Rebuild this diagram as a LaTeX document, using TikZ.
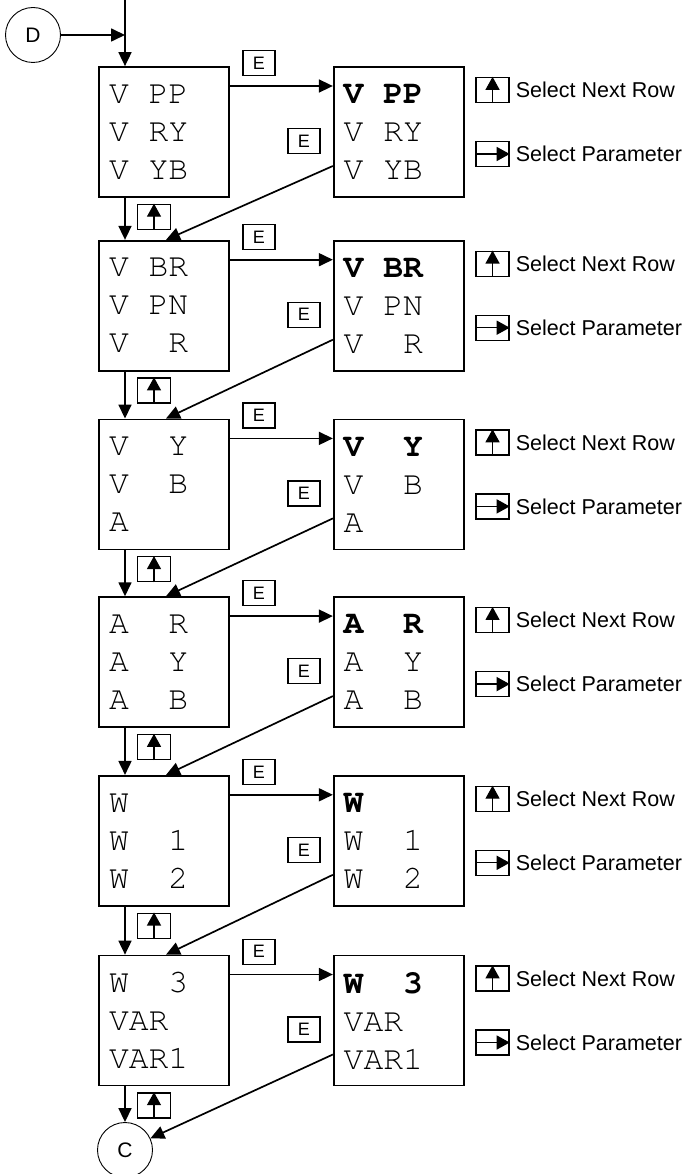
\documentclass[tikz,border=0pt]{standalone}
\usepackage{fontspec}
\setmainfont{Liberation Sans}
\newfontfamily\cursorfont{TeX Gyre Cursor}
\newcommand\cgap{\hphantom{0}}
\usetikzlibrary{arrows.meta, positioning}

\begin{document}
\begin{tikzpicture}[
    x=1pt, y=-1pt,
    menu/.style={draw, line width=1.7pt, minimum width=130pt, minimum height=130pt, text width=110pt, inner xsep=10pt, inner ysep=0pt, align=left, font=\cursorfont\fontsize{33}{38}\selectfont},
    keybox/.style={draw, line width=1.3pt, minimum width=32pt, minimum height=25pt, inner sep=0pt, font=\fontsize{18}{18}\selectfont},
    iconbox/.style={draw, line width=1.3pt, minimum width=33pt, minimum height=25pt, inner sep=0pt},
    term/.style={draw, circle, line width=0.9pt, minimum size=55pt, inner sep=0pt, font=\fontsize{21}{21}\selectfont},
    arrow/.style={-{Triangle[length=14pt, width=13pt]}, line width=1.7pt},
    iconarrow/.style={-{Triangle[length=13pt, width=14pt]}, line width=1.3pt},
    hint/.style={font=\fontsize{21.5}{21.5}\selectfont, inner sep=0pt},
]
    \useasboundingbox (0,0) rectangle (684,1174);

    % Menu screens
    \node[menu] (m1) at (164,132) {V\cgap PP\\V\cgap RY\\V\cgap YB};
    \node[menu, below=42pt of m1] (m2) {V\cgap BR\\V\cgap PN\\V\cgap\cgap R};
    \node[menu, below=47pt of m2] (m3) {V\cgap\cgap Y\\V\cgap\cgap B\\A};
    \node[menu, below=46pt of m3] (m4) {A\cgap\cgap R\\A\cgap\cgap Y\\A\cgap\cgap B};
    \node[menu, below=47pt of m4] (m5) {W\\W\cgap\cgap 1\\W\cgap\cgap 2};
    \node[menu, below=48pt of m5] (m6) {W\cgap\cgap 3\\VAR\\VAR1};

    % Parameter screens (selected row in bold)
    \node[menu, right=103pt of m1] (p1) {\textbf{V\cgap PP}\\V\cgap RY\\V\cgap YB};
    \node[menu, right=103pt of m2] (p2) {\textbf{V\cgap BR}\\V\cgap PN\\V\cgap\cgap R};
    \node[menu, right=103pt of m3] (p3) {\textbf{V\cgap\cgap Y}\\V\cgap\cgap B\\A};
    \node[menu, right=103pt of m4] (p4) {\textbf{A\cgap\cgap R}\\A\cgap\cgap Y\\A\cgap\cgap B};
    \node[menu, right=103pt of m5] (p5) {\textbf{W}\\W\cgap\cgap 1\\W\cgap\cgap 2};
    \node[menu, right=103pt of m6] (p6) {\textbf{W\cgap\cgap 3}\\VAR\\VAR1};

    % Connectors
    \node[term] (d) at (33,35) {D};
    \node[term] (c) at (125,1150) {C};
    \coordinate (entry) at (125,0);

    % Down the menu
    \draw[arrow] (d) -- (d -| entry);
    \draw[arrow] (entry) -- ([xshift=-39pt]m1.north);
    \draw[arrow] ([xshift=-39pt]m1.south) -- ([xshift=-39pt]m2.north);
    \draw[arrow] ([xshift=-39pt]m2.south) -- ([xshift=-39pt]m3.north);
    \draw[arrow] ([xshift=-39pt]m3.south) -- ([xshift=-39pt]m4.north);
    \draw[arrow] ([xshift=-39pt]m4.south) -- ([xshift=-39pt]m5.north);
    \draw[arrow] ([xshift=-39pt]m5.south) -- ([xshift=-39pt]m6.north);
    \draw[arrow] ([xshift=-39pt]m6.south) -- (c);

    % Into the parameter screens
    \draw[arrow] ([yshift=46pt]m1.east) -- ([yshift=46pt]p1.west);
    \draw[arrow] ([yshift=46pt]m2.east) -- ([yshift=46pt]p2.west);
    \draw[arrow] ([yshift=46pt]m3.east) -- ([yshift=46pt]p3.west);
    \draw[arrow] ([yshift=46pt]m4.east) -- ([yshift=46pt]p4.west);
    \draw[arrow] ([yshift=46pt]m5.east) -- ([yshift=46pt]p5.west);
    \draw[arrow] ([yshift=46pt]m6.east) -- ([yshift=46pt]p6.west);

    % Back to the next menu screen
    \draw[arrow] ([yshift=-34pt]p1.west) -- ([xshift=2pt]m2.north);
    \draw[arrow] ([yshift=-34pt]p2.west) -- ([xshift=2pt]m3.north);
    \draw[arrow] ([yshift=-34pt]p3.west) -- ([xshift=2pt]m4.north);
    \draw[arrow] ([yshift=-34pt]p4.west) -- ([xshift=2pt]m5.north);
    \draw[arrow] ([yshift=-34pt]p5.west) -- ([xshift=2pt]m6.north);
    \draw[arrow] ([yshift=-34pt]p6.west) -- (c);

    % E keys
    \node[keybox] (e1) at ([shift={(29pt,3pt)}]m1.north east) {E};
    \node[keybox] (e1b) at ([shift={(-29pt,-9pt)}]p1.west) {E};
    \node[keybox] (e2) at ([shift={(29pt,3pt)}]m2.north east) {E};
    \node[keybox] (e2b) at ([shift={(-29pt,-9pt)}]p2.west) {E};
    \node[keybox] (e3) at ([shift={(29pt,3pt)}]m3.north east) {E};
    \node[keybox] (e3b) at ([shift={(-29pt,-9pt)}]p3.west) {E};
    \node[keybox] (e4) at ([shift={(29pt,3pt)}]m4.north east) {E};
    \node[keybox] (e4b) at ([shift={(-29pt,-9pt)}]p4.west) {E};
    \node[keybox] (e5) at ([shift={(29pt,3pt)}]m5.north east) {E};
    \node[keybox] (e5b) at ([shift={(-29pt,-9pt)}]p5.west) {E};
    \node[keybox] (e6) at ([shift={(29pt,3pt)}]m6.north east) {E};
    \node[keybox] (e6b) at ([shift={(-29pt,-9pt)}]p6.west) {E};

    % Up keys between screens
    \node[iconbox] (u1) at ([shift={(-10pt,-19pt)}]m1.south) {};
    \node[iconbox] (u2) at ([shift={(-10pt,-19pt)}]m2.south) {};
    \node[iconbox] (u3) at ([shift={(-10pt,-19pt)}]m3.south) {};
    \node[iconbox] (u4) at ([shift={(-10pt,-19pt)}]m4.south) {};
    \node[iconbox] (u5) at ([shift={(-10pt,-19pt)}]m5.south) {};
    \node[iconbox] (u6) at ([shift={(-10pt,-19pt)}]m6.south) {};
    \draw[iconarrow] (u1.south) -- (u1.north);
    \draw[iconarrow] (u2.south) -- (u2.north);
    \draw[iconarrow] (u3.south) -- (u3.north);
    \draw[iconarrow] (u4.south) -- (u4.north);
    \draw[iconarrow] (u5.south) -- (u5.north);
    \draw[iconarrow] (u6.south) -- (u6.north);

    % Key hints
    \node[iconbox] (n1) at ([shift={(28pt,42pt)}]p1.east) {};
    \node[iconbox] (s1) at ([shift={(28pt,-22pt)}]p1.east) {};
    \node[iconbox] (n2) at ([shift={(28pt,42pt)}]p2.east) {};
    \node[iconbox] (s2) at ([shift={(28pt,-22pt)}]p2.east) {};
    \node[iconbox] (n3) at ([shift={(28pt,42pt)}]p3.east) {};
    \node[iconbox] (s3) at ([shift={(28pt,-22pt)}]p3.east) {};
    \node[iconbox] (n4) at ([shift={(28pt,42pt)}]p4.east) {};
    \node[iconbox] (s4) at ([shift={(28pt,-22pt)}]p4.east) {};
    \node[iconbox] (n5) at ([shift={(28pt,42pt)}]p5.east) {};
    \node[iconbox] (s5) at ([shift={(28pt,-22pt)}]p5.east) {};
    \node[iconbox] (n6) at ([shift={(28pt,42pt)}]p6.east) {};
    \node[iconbox] (s6) at ([shift={(28pt,-22pt)}]p6.east) {};
    \draw[iconarrow] (n1.south) -- (n1.north);
    \draw[iconarrow] (s1.west) -- (s1.east);
    \draw[iconarrow] (n2.south) -- (n2.north);
    \draw[iconarrow] (s2.west) -- (s2.east);
    \draw[iconarrow] (n3.south) -- (n3.north);
    \draw[iconarrow] (s3.west) -- (s3.east);
    \draw[iconarrow] (n4.south) -- (n4.north);
    \draw[iconarrow] (s4.west) -- (s4.east);
    \draw[iconarrow] (n5.south) -- (n5.north);
    \draw[iconarrow] (s5.west) -- (s5.east);
    \draw[iconarrow] (n6.south) -- (n6.north);
    \draw[iconarrow] (s6.west) -- (s6.east);
    \node[hint, right=6pt of n1] (tn1) {Select Next Row};
    \node[hint, right=6pt of s1] (ts1) {Select Parameter};
    \node[hint, right=6pt of n2] (tn2) {Select Next Row};
    \node[hint, right=6pt of s2] (ts2) {Select Parameter};
    \node[hint, right=6pt of n3] (tn3) {Select Next Row};
    \node[hint, right=6pt of s3] (ts3) {Select Parameter};
    \node[hint, right=6pt of n4] (tn4) {Select Next Row};
    \node[hint, right=6pt of s4] (ts4) {Select Parameter};
    \node[hint, right=6pt of n5] (tn5) {Select Next Row};
    \node[hint, right=6pt of s5] (ts5) {Select Parameter};
    \node[hint, right=6pt of n6] (tn6) {Select Next Row};
    \node[hint, right=6pt of s6] (ts6) {Select Parameter};

\end{tikzpicture}
\end{document}
